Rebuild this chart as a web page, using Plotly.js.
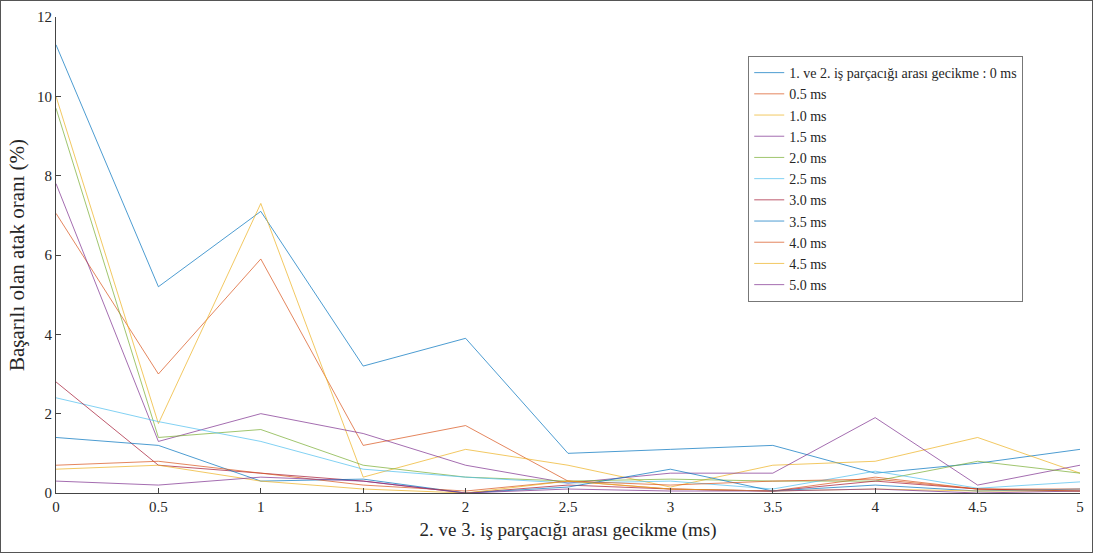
<!DOCTYPE html>
<html>
<head>
<meta charset="utf-8">
<script src="https://cdn.plot.ly/plotly-3.0.1.min.js"></script>
<style>
  html, body { margin: 0; padding: 0; background: #fff; }
  #wrap { position: relative; width: 1093px; height: 553px; }
  #chart { width: 1093px; height: 553px; }
  #frame { position: absolute; left: 0; top: 0; width: 1091px; height: 551px; border: 1px solid #555; pointer-events: none; }
</style>
</head>
<body>
<div id="wrap"><div id="chart"></div><div id="frame"></div></div>
<script>
// X positions: delay between thread 2 and 3 (ms)
const delays = [0, 0.5, 1, 1.5, 2, 2.5, 3, 3.5, 4, 4.5, 5];
const xTickLabels = ["0", "0.5", "1", "1.5", "2", "2.5", "3", "3.5", "4", "4.5", "5"];
const yTickValues = [0, 2, 4, 6, 8, 10, 12];

// Legend names (delay between thread 1 and 2)
const seriesNames = [
  "1. ve 2. iş parçacığı arası gecikme : 0 ms",
  "0.5 ms", "1.0 ms", "1.5 ms", "2.0 ms", "2.5 ms",
  "3.0 ms", "3.5 ms", "4.0 ms", "4.5 ms", "5.0 ms"
];

// Success rate (%) per series
const s00 = [11.3, 5.2, 7.1, 3.2, 3.9, 1.0, 1.1, 1.2, 0.5, 0.75, 1.1];
const s05 = [7.05, 3.0, 5.9, 1.2, 1.7, 0.3, 0.1, 0.05, 0.4, 0.1, 0.05];
const s10 = [10.0, 1.75, 7.3, 0.4, 1.1, 0.7, 0.15, 0.7, 0.8, 1.4, 0.5];
const s15 = [7.8, 1.3, 2.0, 1.5, 0.7, 0.25, 0.5, 0.5, 1.9, 0.2, 0.7];
const s20 = [9.7, 1.4, 1.6, 0.7, 0.4, 0.3, 0.35, 0.3, 0.3, 0.8, 0.5];
const s25 = [2.4, 1.8, 1.3, 0.6, 0.4, 0.25, 0.3, 0.1, 0.55, 0.12, 0.28];
const s30 = [2.8, 0.7, 0.5, 0.3, 0.0, 0.2, 0.1, 0.05, 0.3, 0.1, 0.05];
const s35 = [1.4, 1.2, 0.3, 0.35, 0.0, 0.15, 0.6, 0.05, 0.2, 0.05, 0.1];
const s40 = [0.7, 0.8, 0.5, 0.2, 0.05, 0.3, 0.2, 0.3, 0.35, 0.1, 0.1];
const s45 = [0.6, 0.7, 0.3, 0.1, 0.0, 0.3, 0.1, 0.05, 0.1, 0.05, 0.05];
const s50 = [0.3, 0.2, 0.4, 0.3, 0.0, 0.1, 0.05, 0.05, 0.1, 0.0, 0.05];

const allSeries = [s00, s05, s10, s15, s20, s25, s30, s35, s40, s45, s50];

const colors = ["#0072BD", "#D95319", "#EDB120", "#7E2F8E", "#77AC30", "#4DBEEE", "#A2142F"];

const traces = allSeries.map((vals, i) => ({
  x: delays,
  y: vals,
  type: "scatter",
  mode: "lines",
  name: seriesNames[i],
  line: { color: colors[i % colors.length], width: 1 },
  opacity: 0.7
}));

const family = "Liberation Serif, Times New Roman, serif";
const tickFont = { family: family, size: 15, color: "#262626" };

const layout = {
  width: 1093, height: 553,
  margin: { l: 56, r: 13, t: 17, b: 60 },
  paper_bgcolor: "#fff", plot_bgcolor: "#fff",
  font: tickFont,
  showlegend: true,
  legend: {
    x: 0.676, y: 0.918, xanchor: "left", yanchor: "top",
    bgcolor: "#fff", bordercolor: "#777", borderwidth: 1,
    font: { family: family, size: 14, color: "#262626" },
    tracegroupgap: 0, itemwidth: 30
  },
  xaxis: {
    range: [0, 5],
    tickvals: delays, ticktext: xTickLabels,
    tickfont: tickFont,
    ticks: "inside", ticklen: 5, tickcolor: "#444",
    showline: true, linecolor: "#444", linewidth: 1,
    showgrid: false, zeroline: false,
    title: { text: "2. ve 3. iş parçacığı arası gecikme (ms)", font: { family: family, size: 19, color: "#262626" }, standoff: 8 }
  },
  yaxis: {
    range: [0, 12],
    tickvals: yTickValues,
    tickfont: tickFont,
    ticks: "inside", ticklen: 5, tickcolor: "#444",
    showline: true, linecolor: "#444", linewidth: 1,
    showgrid: false, zeroline: false,
    title: { text: "Başarılı olan atak oranı (%)", font: { family: family, size: 21, color: "#262626" }, standoff: 6 }
  }
};

Plotly.newPlot("chart", traces, layout, { displayModeBar: false, staticPlot: true });
</script>
</body>
</html>
